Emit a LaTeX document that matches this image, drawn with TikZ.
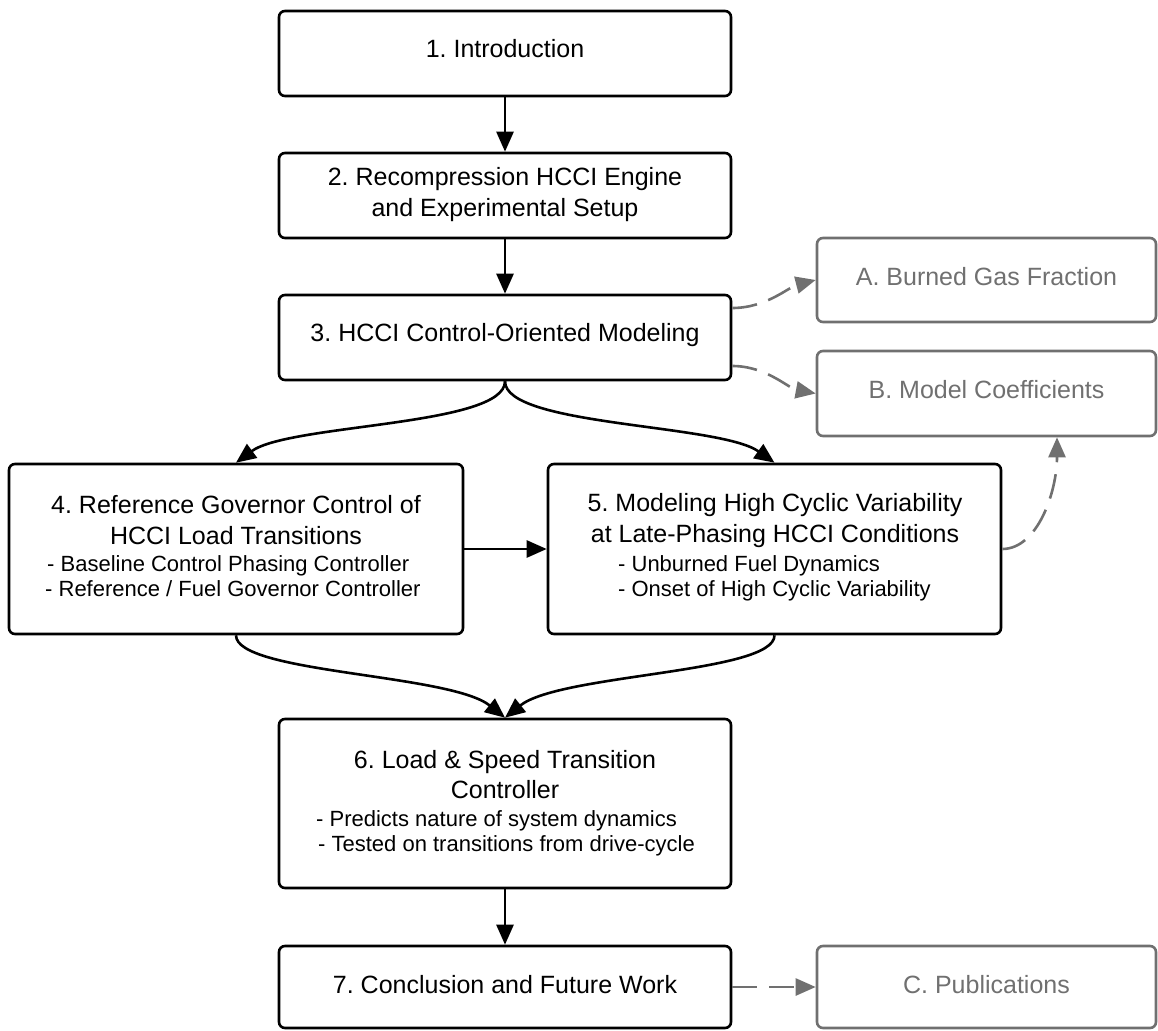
\documentclass[tikz,border=0pt]{standalone}
\usepackage{fontspec}
\setmainfont{Liberation Sans}
\usetikzlibrary{arrows.meta}
\definecolor{fadegray}{HTML}{707070}
\frenchspacing
\begin{document}
\begin{tikzpicture}[x=1pt,y=-1pt,
  box/.style={draw=black, line width=2.6pt, rounded corners=6pt, inner sep=0pt},
  sidebox/.style={box, draw=fadegray},
  title/.style={font=\fontsize{25}{31}\selectfont, inner sep=0pt, anchor=base},
  sub/.style={font=\fontsize{22}{25}\selectfont, inner sep=0pt, anchor=base west},
  sidetitle/.style={title, text=fadegray},
  flow/.style={draw=black, line width=2.6pt, -{Triangle[length=20pt,width=17pt]}},
  side/.style={draw=fadegray, line width=2.6pt, dash pattern=on 25pt off 12pt,
    -{Triangle[length=20pt,width=17pt]}},
]
\useasboundingbox (0,0) rectangle (1158,1030);

% main chapter boxes
\node[box, minimum width=452pt, minimum height=85pt]  (b1) at (505,53.5)  {};
\node[box, minimum width=452pt, minimum height=85pt]  (b2) at (505,195.5) {};
\node[box, minimum width=452pt, minimum height=85pt]  (b3) at (505,337.5) {};
\node[box, minimum width=454pt, minimum height=170pt] (b4) at (236,549)   {};
\node[box, minimum width=453pt, minimum height=170pt] (b5) at (774.5,549) {};
\node[box, minimum width=452pt, minimum height=169pt] (b6) at (505,803.5) {};
\node[box, minimum width=452pt, minimum height=82pt]  (b7) at (505,987)   {};

% appendix boxes
\node[sidebox, minimum width=339pt, minimum height=84pt] (bA) at (986.5,280)   {};
\node[sidebox, minimum width=339pt, minimum height=85pt] (bB) at (986.5,393.5) {};
\node[sidebox, minimum width=339pt, minimum height=82pt] (bC) at (986.5,987)   {};

% box texts
\node[title] (t1)  at (505,58)  {1. Introduction};
\node[title] (t2a) at (505,185) {2. Recompression HCCI Engine};
\node[title] (t2b) at (505,216) {and Experimental Setup};
\node[title] (t3)  at (505,341) {3. HCCI Control-Oriented Modeling};

\node[title] (t4a) at (236,513) {4. Reference Governor Control of};
\node[title] (t4b) at (236,544) {HCCI Load Transitions};
\node[sub]   (s4a) at (47,571)  {- Baseline Control Phasing Controller};
\node[sub]   (s4b) at (45,596)  {- Reference / Fuel Governor Controller};

\node[title] (t5a) at (775,511) {5. Modeling High Cyclic Variability};
\node[title] (t5b) at (775,542) {at Late-Phasing HCCI Conditions};
\node[sub]   (s5a) at (618,571) {- Unburned Fuel Dynamics};
\node[sub]   (s5b) at (618,596) {- Onset of High Cyclic Variability};

\node[title] (t6a) at (505,768) {6. Load \& Speed Transition};
\node[title] (t6b) at (505,798) {Controller};
\node[sub]   (s6a) at (316,826) {- Predicts nature of system dynamics};
\node[sub]   (s6b) at (318,851) {- Tested on transitions from drive-cycle};

\node[title] (t7)  at (505,993) {7. Conclusion and Future Work};

\node[sidetitle] (tA) at (986.5,285) {A. Burned Gas Fraction};
\node[sidetitle] (tB) at (986.5,398) {B. Model Coefficients};
\node[sidetitle] (tC) at (986.5,993) {C. Publications};

% main flow
\draw[flow] (b1.south) -- (b2.north);
\draw[flow] (b2.south) -- (b3.north);
\draw[flow] (b3.south) .. controls +(0,45) and +(53,-39) .. (b4.north);
\draw[flow] (b3.south) .. controls +(0,45) and +(-55,-39) .. (b5.north);
\draw[flow] (b4.east) -- (b5.west);
\draw[flow] (b4.south) .. controls +(0,38) and +(-55,-44) .. (b6.north);
\draw[flow] (b5.south) .. controls +(0,38) and +(55,-44) .. (b6.north);
\draw[flow] (b6.south) -- (b7.north);

% links to appendices
\draw[side] ([yshift=29.5pt]b3.east) .. controls +(34,0) and +(-27,7) .. (bA.west);
\draw[side] ([yshift=-28.5pt]b3.east) .. controls +(34,0) and +(-27,-5) .. (bB.west);
\draw[side] (b5.east) .. controls +(35,0) and +(0,55) .. ([xshift=70.5pt]bB.south);
\draw[side] (b7.east) -- (bC.west);
\end{tikzpicture}
\end{document}
